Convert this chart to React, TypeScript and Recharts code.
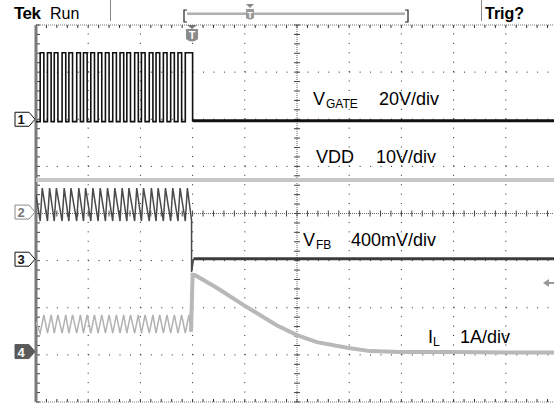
import React from 'react';
import { LineChart, Line, XAxis, YAxis, ReferenceLine } from 'recharts';

// time axis in divisions (0..10), levels in divisions (0 = bottom graticule, 8 = top)
const gateRise = [0.08, 0.22, 0.35, 0.5, 0.63, 0.78, 0.91, 1.05, 1.19, 1.33, 1.47, 1.61, 1.74, 1.89, 2.02, 2.17, 2.3, 2.44, 2.58, 2.72, 2.86];
const gateFall = [0.15, 0.29, 0.42, 0.57, 0.7, 0.85, 0.98, 1.12, 1.26, 1.4, 1.54, 1.68, 1.81, 1.96, 2.09, 2.24, 2.37, 2.51, 2.65, 2.79, 3.0];
const gateLow = 5.95;
const gateHigh = 7.41;
const gateIdle = [{ t: 3.0, v: 5.97 }, { t: 10, v: 5.97 }];

const vdd = [{ t: 0, v: 4.71 }, { t: 10, v: 4.71 }];

const fbTroughT = [0.08, 0.22, 0.35, 0.5, 0.63, 0.78, 0.91, 1.05, 1.19, 1.33, 1.47, 1.61, 1.74, 1.89, 2.02, 2.17, 2.3, 2.44, 2.58, 2.72, 2.86];
const fbPeakT = [0.12, 0.26, 0.39, 0.54, 0.67, 0.82, 0.95, 1.09, 1.23, 1.37, 1.51, 1.65, 1.78, 1.93, 2.06, 2.21, 2.34, 2.48, 2.62, 2.76, 2.9];
const fbLow = 3.84;
const fbHigh = 4.54;
const fbTail = [{ t: 2.98, v: 3.86 }, { t: 2.98, v: 2.76 }, { t: 3.02, v: 3.04 }];
const fbIdle = [{ t: 3.02, v: 3.04 }, { t: 10, v: 3.04 }];

const ilTroughT = [0.08, 0.22, 0.35, 0.5, 0.63, 0.78, 0.91, 1.05, 1.19, 1.33, 1.47, 1.61, 1.74, 1.89, 2.02, 2.17, 2.3, 2.44, 2.58, 2.72, 2.86];
const ilPeakT = [0.15, 0.29, 0.42, 0.57, 0.7, 0.85, 0.98, 1.12, 1.26, 1.4, 1.54, 1.68, 1.81, 1.96, 2.09, 2.24, 2.37, 2.51, 2.65, 2.79, 2.93];
const ilLow = 1.46;
const ilHigh = 1.85;
const ilDecayT = [2.97, 3.0, 3.05, 3.47, 3.97, 4.61, 5.0, 5.38, 5.96, 6.4, 6.97, 8.0, 9.0, 10];
const ilDecayV = [1.49, 2.7, 2.69, 2.42, 2.06, 1.63, 1.42, 1.27, 1.15, 1.08, 1.06, 1.06, 1.05, 1.05];

const channelLevels = [6.0, 4.03, 3.03, 1.07];
const channelNames = ['1', '2', '3', '4'];

const gatePulse: { t: number; v: number }[] = [{ t: 0, v: gateLow }];
gateRise.forEach((r, i) => {
  gatePulse.push({ t: r, v: gateLow }, { t: r, v: gateHigh }, { t: gateFall[i], v: gateHigh }, { t: gateFall[i], v: gateLow });
});

const fbSaw: { t: number; v: number }[] = [{ t: 0, v: 4.4 }];
fbTroughT.forEach((tr, i) => {
  fbSaw.push({ t: tr, v: fbLow }, { t: fbPeakT[i], v: fbHigh });
});
fbSaw.push(...fbTail);

const ilRipple: { t: number; v: number }[] = [{ t: 0, v: 1.7 }];
ilTroughT.forEach((tr, i) => {
  ilRipple.push({ t: tr, v: ilLow }, { t: ilPeakT[i], v: ilHigh });
});
const ilDecay = ilDecayT.map((t, i) => ({ t, v: ilDecayV[i] }));
ilRipple.push(ilDecay[0], ilDecay[1]);

const minorX = Array.from({ length: 51 }, (_, i) => i / 5);
const minorY = Array.from({ length: 41 }, (_, i) => i / 5);
const dx = 3 / 52.2;
const dy = 3 / 47.125;

const font = '"Liberation Sans", Arial, sans-serif';

function ChannelTick(props: any) {
  const { y, payload } = props;
  const idx = channelLevels.indexOf(payload.value);
  const name = channelNames[idx];
  const filled = name === '4';
  const stroke = name === '2' ? '#8a8a8a' : '#111';
  return (
    <g>
      <path
        d={`M15,${y - 7} H29 L35,${y} L29,${y + 7} H15 Z`}
        fill={filled ? '#5a5a5a' : '#fff'}
        stroke={filled ? '#5a5a5a' : stroke}
        strokeWidth={1}
      />
      <text x={21} y={y + 5} textAnchor="middle" fontFamily={font} fontSize={13} fontWeight="bold" fill={filled ? '#fff' : name === '2' ? '#777' : '#111'}>
        {name}
      </text>
    </g>
  );
}

export default function App() {
  return (
    <div style={{ position: 'absolute', left: 0, top: 0, width: 554, height: 405, overflow: 'hidden', background: '#fff' }}>
      <LineChart width={560} height={405} margin={{ top: 25, right: 2, bottom: 3, left: 0 }}>
        <XAxis dataKey="t" type="number" domain={[0, 10]} hide allowDataOverflow />
        <YAxis
          type="number"
          domain={[0, 8]}
          width={36}
          ticks={channelLevels}
          interval={0}
          tick={<ChannelTick />}
          tickLine={false}
          axisLine={false}
          allowDataOverflow
        />
        {[1, 2, 3, 5, 6, 7].map((v) => (
          <ReferenceLine key={`h${v}`} y={v} stroke="#222" strokeDasharray="1 9.44" ifOverflow="visible" />
        ))}
        {[1, 2, 3, 4, 6, 7, 8, 9].map((v) => (
          <ReferenceLine key={`v${v}`} x={v} stroke="#222" strokeDasharray="1 8.425" ifOverflow="visible" />
        ))}
        <ReferenceLine y={4} stroke="#666" strokeDasharray="1 1" ifOverflow="visible" />
        <ReferenceLine x={5} stroke="#666" strokeDasharray="1 1" ifOverflow="visible" />
        <ReferenceLine y={8} stroke="#777" strokeDasharray="1 1" ifOverflow="visible" />
        <ReferenceLine y={0} stroke="#777" strokeDasharray="1 1" ifOverflow="visible" />
        {minorX.map((t) => (
          <ReferenceLine key={`tt${t}`} segment={[{ x: t, y: 8 }, { x: t, y: 8 - dy }]} stroke="#333" ifOverflow="visible" />
        ))}
        {minorX.map((t) => (
          <ReferenceLine key={`tb${t}`} segment={[{ x: t, y: 0 }, { x: t, y: dy }]} stroke="#333" ifOverflow="visible" />
        ))}
        {minorX.map((t) => (
          <ReferenceLine key={`tc${t}`} segment={[{ x: t, y: 4 - dy }, { x: t, y: 4 + dy }]} stroke="#444" ifOverflow="visible" />
        ))}
        {minorY.map((v) => (
          <ReferenceLine key={`tl${v}`} segment={[{ x: 0, y: v }, { x: dx * 1.3, y: v }]} stroke="#333" ifOverflow="visible" />
        ))}
        {minorY.map((v) => (
          <ReferenceLine key={`tm${v}`} segment={[{ x: 5 - dx, y: v }, { x: 5 + dx, y: v }]} stroke="#444" ifOverflow="visible" />
        ))}
        <ReferenceLine x={0} stroke="#7a7a7a" strokeWidth={3} ifOverflow="visible" />

        <Line data={vdd} dataKey="v" stroke="#c6c6c6" strokeWidth={4} dot={false} isAnimationActive={false} />
        <Line data={ilRipple} dataKey="v" stroke="#b2b2b2" strokeWidth={1.5} dot={false} isAnimationActive={false} />
        <Line data={ilDecay} dataKey="v" stroke="#b8b8b8" strokeWidth={4} dot={false} isAnimationActive={false} />
        <Line data={fbSaw} dataKey="v" stroke="#4a4a4a" strokeWidth={1.5} dot={false} isAnimationActive={false} />
        <Line data={fbIdle} dataKey="v" stroke="#3c3c3c" strokeWidth={3} dot={false} isAnimationActive={false} />
        <Line data={gatePulse} dataKey="v" stroke="#111" strokeWidth={1.6} dot={false} isAnimationActive={false} />
        <Line data={gateIdle} dataKey="v" stroke="#111" strokeWidth={3} dot={false} isAnimationActive={false} />
      </LineChart>

      <svg width={554} height={405} style={{ position: 'absolute', left: 0, top: 0, pointerEvents: 'none' }}>
        <text x={14} y={19} fontFamily={font} fontSize={17} fontWeight="bold" letterSpacing={-0.5} fill="#000">Tek</text>
        <text x={50} y={19} fontFamily={font} fontSize={16} fill="#000">Run</text>
        <line x1={110.5} y1={0} x2={110.5} y2={21} stroke="#888" />
        <path d="M187,10 H184 V22 H187" fill="none" stroke="#222" strokeWidth={1.2} />
        <rect x={187} y={12.5} width={218} height={2.5} fill="#b0b0b0" />
        <path d="M405,10 H408 V22 H405" fill="none" stroke="#222" strokeWidth={1.2} />
        <path d="M246,4 H254 L250,8 Z" fill="#888" />
        <path d="M246,9 H254 V18 Q250,21 246,18 Z" fill="#999" />
        <text x={250} y={17.5} textAnchor="middle" fontFamily={font} fontSize={9} fontWeight="bold" fill="#fff">T</text>
        <line x1={481.5} y1={0} x2={481.5} y2={21} stroke="#888" />
        <text x={485} y={19} fontFamily={font} fontSize={16} fontWeight="bold" fill="#000">Trig?</text>

        <path d="M187,25 H197 L192,29 Z" fill="#777" />
        <path d="M186,29 H198 V39 Q192,44 186,39 Z" fill="#8a8a8a" />
        <text x={192} y={39} textAnchor="middle" fontFamily={font} fontSize={11} fontWeight="bold" fill="#fff">T</text>

        <path d="M543,283 L549,279 V287 Z" fill="#999" />
        <line x1={548} y1={283} x2={554} y2={283} stroke="#999" strokeWidth={2} />

        <g fontFamily={font} fill="#000">
          <text x={313} y={105} fontSize={18}>V</text>
          <text x={326} y={108} fontSize={12}>GATE</text>
          <text x={379} y={105} fontSize={18}>20V/div</text>
          <text x={316} y={163} fontSize={18}>VDD</text>
          <text x={376} y={163} fontSize={18}>10V/div</text>
          <text x={303} y={246} fontSize={18}>V</text>
          <text x={316} y={249} fontSize={12}>FB</text>
          <text x={351} y={246} fontSize={18}>400mV/div</text>
          <text x={428} y={343} fontSize={18}>I</text>
          <text x={433} y={346} fontSize={12}>L</text>
          <text x={460} y={343} fontSize={18}>1A/div</text>
        </g>
      </svg>
    </div>
  );
}
